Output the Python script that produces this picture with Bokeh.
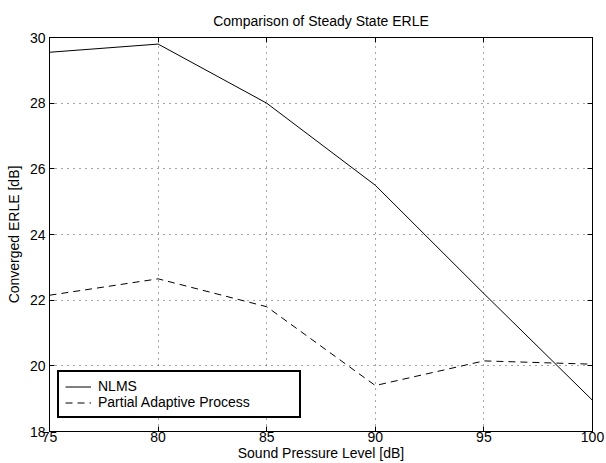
from bokeh.plotting import figure
from bokeh.models import LinearAxis, Legend, LegendItem, Range1d, FixedTicker
from bokeh.embed import file_html
from bokeh.resources import INLINE

spl = [75, 80, 85, 90, 95, 100]
nlms = [29.55, 29.8, 28.0, 25.5, 22.2, 18.95]
partial = [22.15, 22.65, 21.8, 19.4, 20.15, 20.05]
x_ticks = [75, 80, 85, 90, 95, 100]
y_ticks = [18, 20, 22, 24, 26, 28, 30]

FONT = "Liberation Sans"
FS = "14px"

p = figure(width=606, height=463, output_backend="svg", toolbar_location=None,
           x_range=Range1d(75, 100), y_range=Range1d(18, 30),
           min_border_left=49, min_border_right=14, min_border_top=37, min_border_bottom=31)
p.title.text = "Comparison of Steady State ERLE"
p.title.align = "center"
p.title.text_font = FONT
p.title.text_font_size = FS
p.title.text_font_style = "normal"
p.title.text_color = "black"
p.title.standoff = 18

p.outline_line_color = "black"
p.outline_line_width = 1
p.background_fill_color = "white"
p.border_fill_color = "white"

for ax in (p.xaxis[0], p.yaxis[0]):
    ax.major_tick_in = 5
    ax.major_tick_out = 0
    ax.minor_tick_in = 0
    ax.minor_tick_out = 0
    ax.axis_line_color = "black"
    ax.major_tick_line_color = "black"
    ax.major_label_text_font = FONT
    ax.major_label_text_font_size = FS
    ax.major_label_text_color = "black"
    ax.axis_label_text_font = FONT
    ax.axis_label_text_font_size = FS
    ax.axis_label_text_font_style = "normal"
    ax.axis_label_text_color = "black"

p.xaxis[0].ticker = FixedTicker(ticks=x_ticks)
p.yaxis[0].ticker = FixedTicker(ticks=y_ticks)
p.xaxis[0].axis_label = "Sound Pressure Level [dB]"
p.yaxis[0].axis_label = "Converged ERLE [dB]"
p.xaxis[0].major_label_standoff = 0
p.yaxis[0].major_label_standoff = 4
p.yaxis[0].major_label_text_baseline = "alphabetic"
p.xaxis[0].axis_label_standoff = 0
p.yaxis[0].axis_label_standoff = 5

for loc, tk in (("right", y_ticks), ("above", x_ticks)):
    ax = LinearAxis(ticker=FixedTicker(ticks=tk), major_tick_in=5, major_tick_out=0,
                    minor_tick_in=0, minor_tick_out=0,
                    major_label_overrides={t: "" for t in tk},
                    major_label_standoff=0, axis_line_color="black",
                    major_tick_line_color="black")
    p.add_layout(ax, loc)

p.xgrid.ticker = FixedTicker(ticks=x_ticks)
p.ygrid.ticker = FixedTicker(ticks=y_ticks)
for g in (p.xgrid[0], p.ygrid[0]):
    g.grid_line_color = "black"
    g.grid_line_dash = "1 5"
    g.grid_line_width = 1
    g.grid_line_alpha = 0.7

r1 = p.line(spl, nlms, line_color="black", line_width=1)
r2 = p.line(spl, partial, line_color="black", line_width=1, line_dash="7 5")

legend = Legend(items=[LegendItem(label="NLMS", renderers=[r1]),
                       LegendItem(label="Partial Adaptive Process", renderers=[r2])],
                location=(8, 13))
legend.label_text_font = FONT
legend.label_text_font_size = FS
legend.label_text_color = "black"
legend.border_line_color = "black"
legend.border_line_width = 2
legend.border_line_alpha = 1
legend.margin = 0
legend.padding = 6
legend.spacing = 0
legend.glyph_width = 26
legend.glyph_height = 15
legend.label_height = 15
legend.label_standoff = 7
legend.label_width = 195
p.add_layout(legend)

open("out.html", "w").write(file_html(p, INLINE))
